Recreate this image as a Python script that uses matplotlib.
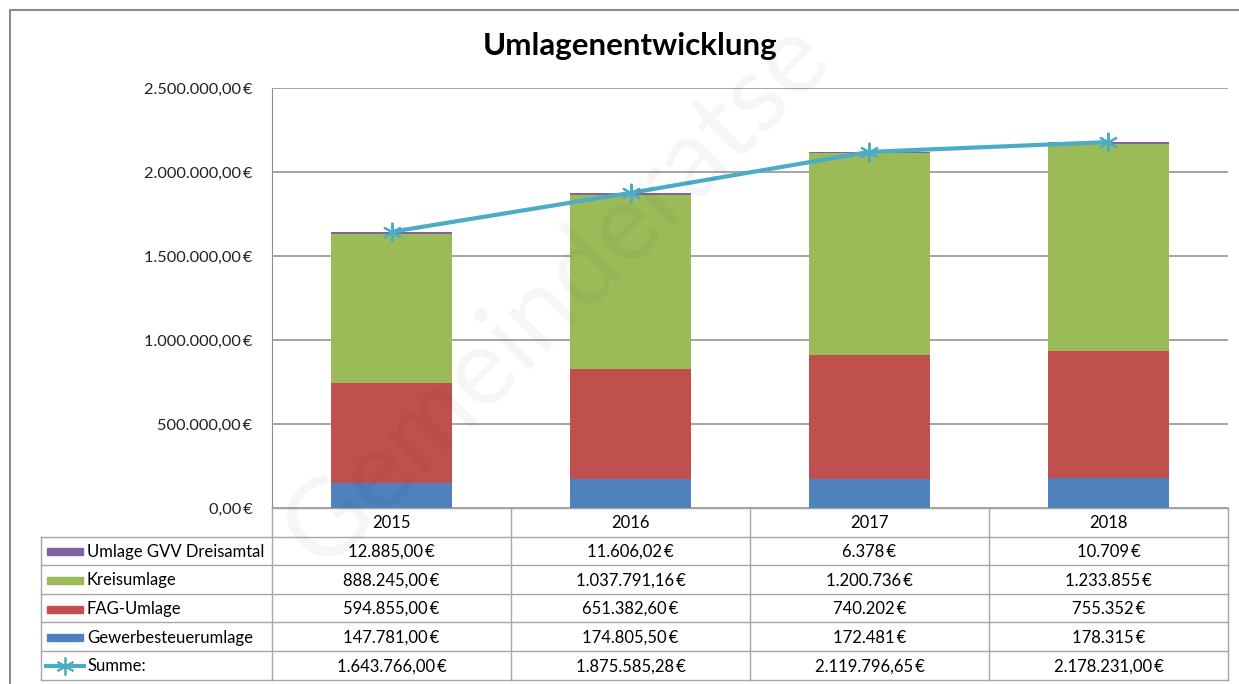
import matplotlib.pyplot as plt
from matplotlib.lines import Line2D
from matplotlib.patches import Rectangle
from matplotlib.ticker import FuncFormatter
import numpy as np

plt.rcParams['font.family'] = ['Lato', 'DejaVu Sans']

years = ['2015', '2016', '2017', '2018']
gvv = [12885.00, 11606.02, 6378, 10709]
kreis = [888245.00, 1037791.16, 1200736, 1233855]
fag = [594855.00, 651382.60, 740202, 755352]
gewerbe = [147781.00, 174805.50, 172481, 178315]
summe = [1643766.00, 1875585.28, 2119796.65, 2178231.00]
with_cents = [True, True, False, False]

series_names = ['Umlage GVV Dreisamtal', 'Kreisumlage', 'FAG-Umlage', 'Gewerbesteuerumlage']
series_vals = [gvv, kreis, fag, gewerbe]
colors = {'Umlage GVV Dreisamtal': '#8064A2', 'Kreisumlage': '#9BBB59',
          'FAG-Umlage': '#C0504D', 'Gewerbesteuerumlage': '#4F81BD'}
line_col = '#4BACC6'
grid_col = '#8C8C8C'
table_col = '#A6A6A6'


def euro(v, cents=True):
    if cents:
        s = f'{v:,.2f}'.replace(',', 'X').replace('.', ',').replace('X', '.')
    else:
        s = f'{v:,.0f}'.replace(',', '.')
    return s + '\u2009€'


W, H = 1239, 684
fig = plt.figure(figsize=(W / 100, H / 100), dpi=100)

# pixel overlay for frame / table
ov = fig.add_axes([0, 0, 1, 1], zorder=0)
ov.set_xlim(0, W)
ov.set_ylim(H, 0)
ov.axis('off')

left, right, top, bottom = 272, 1228, 88, 508
ax = fig.add_axes([left / W, 1 - bottom / H, (right - left) / W, (bottom - top) / H], zorder=1)
ax.patch.set_alpha(0)

x = np.arange(len(years))
base = np.zeros(len(years))
for name in ['Gewerbesteuerumlage', 'FAG-Umlage', 'Kreisumlage', 'Umlage GVV Dreisamtal']:
    vals = np.array(series_vals[series_names.index(name)], dtype=float)
    ax.bar(x, vals, 0.51, bottom=base, color=colors[name], zorder=2)
    base += vals

ax.plot(x, summe, color=line_col, lw=3, marker=(6, 2, 0), ms=14, mew=1.5, zorder=3)

ax.set_xlim(-0.5, len(years) - 0.5)
ax.set_ylim(0, 2500000)
ax.set_yticks(np.arange(0, 2500001, 500000))
ax.yaxis.set_major_formatter(FuncFormatter(lambda v, p: euro(v)))
ax.set_xticks([])
ax.tick_params(axis='y', length=0, pad=14, labelsize=11.8, labelcolor='#222222')
ax.grid(axis='y', color=grid_col, lw=1.1, zorder=1)
for s in ['right', 'top']:
    ax.spines[s].set_visible(False)
ax.spines['left'].set_color(grid_col)
ax.spines['bottom'].set_color(table_col)

fig.text(630 / W, 1 - 46 / H, 'Umlagenentwicklung', ha='center', va='center',
         fontsize=22.5, fontweight='bold')

# outer chart frame
ov.add_line(Line2D([10, 10, W], [H, 10, 10], color='#8C8C8C', lw=1.5))

# data table
col_w = (right - left) / len(years)
row_h = 28.6
lab_left = 41
rows = series_names + ['Summe:']
y_lines = [bottom + i * row_h for i in range(len(rows) + 2)]
ov.add_line(Line2D([left, right], [bottom, bottom], color=table_col, lw=1))
for y in y_lines[1:]:
    ov.add_line(Line2D([lab_left, right], [y, y], color=table_col, lw=1))
for i in range(len(years) + 1):
    xx = left + i * col_w
    ov.add_line(Line2D([xx, xx], [bottom, y_lines[-1]], color=table_col, lw=1))
ov.add_line(Line2D([lab_left, lab_left], [y_lines[1], y_lines[-1]], color=table_col, lw=1))

fs = 12
for i, yr in enumerate(years):
    ov.text(left + (i + 0.5) * col_w, bottom + row_h / 2 + 1, yr, ha='center', va='center', fontsize=fs)

for r, name in enumerate(rows):
    yc = y_lines[r + 1] + row_h / 2 + 1
    if name in colors:
        ov.add_patch(Rectangle((47, yc - 3.5), 36, 7, color=colors[name]))
        vals = series_vals[series_names.index(name)]
        texts = [euro(v, c) for v, c in zip(vals, with_cents)]
    else:
        ov.add_line(Line2D([46, 84], [yc, yc], color=line_col, lw=3))
        ov.plot([65], [yc], marker=(6, 2, 0), ms=13, mew=1.3, color=line_col)
        texts = [euro(v) for v in summe]
    ov.text(87, yc, name, ha='left', va='center', fontsize=fs)
    for i, t in enumerate(texts):
        ov.text(left + (i + 0.5) * col_w, yc, t, ha='center', va='center', fontsize=fs)

# faint watermark (only the part visible in the source)
fig.text(0.45, 0.57, 'Gemeinderatse', rotation=45, ha='center', va='center',
         fontsize=78, color='black', alpha=0.04, zorder=5)

fig.savefig('out.png', dpi=100)
